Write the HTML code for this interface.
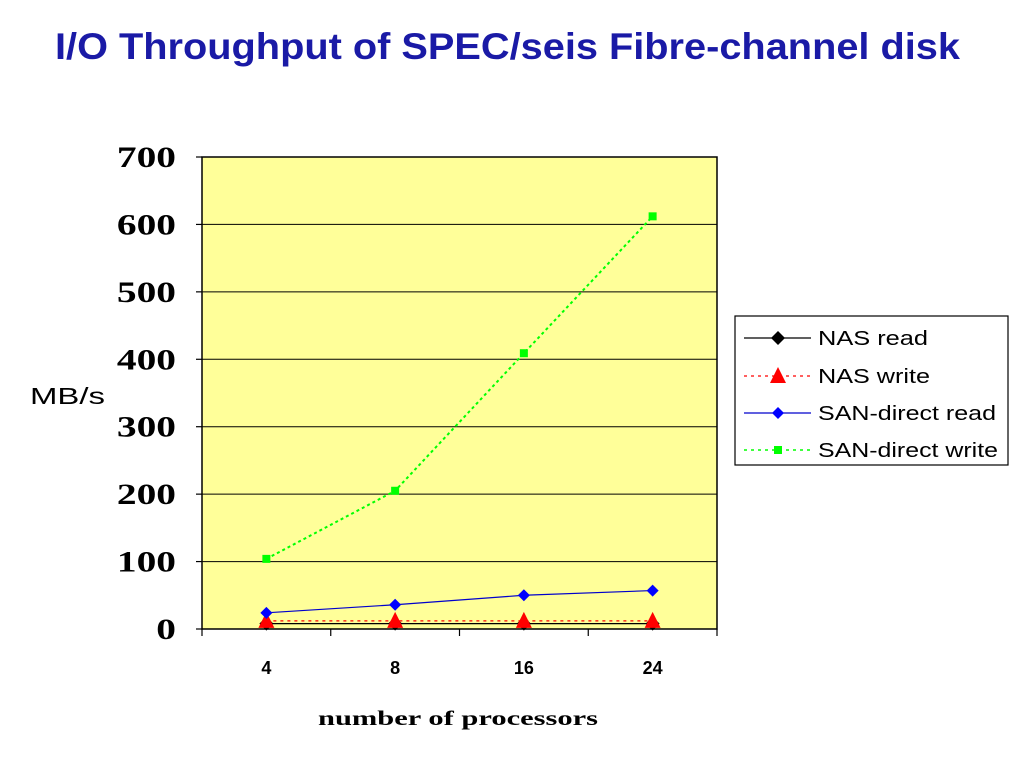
<!DOCTYPE html>
<html><head><meta charset="utf-8"><style>
body{margin:0;background:#fff;}
svg{display:block;}
</style></head><body>
<svg id="chart" width="1024" height="768" xmlns="http://www.w3.org/2000/svg">
<text x="55" y="59" textLength="905" lengthAdjust="spacingAndGlyphs" font-family="Liberation Sans, sans-serif" font-weight="bold" font-size="37" fill="#1a1aa6">I/O Throughput of SPEC/seis Fibre-channel disk</text>
<rect x="202" y="157" width="515" height="472" fill="#ffff99" stroke="#000" stroke-width="1.5"/>
<g id="grid"></g>
<g id="axes"></g>
<g id="series"></g>
<text x="30" y="404" textLength="75" lengthAdjust="spacingAndGlyphs" font-family="Liberation Sans, sans-serif" font-size="23" fill="#000">MB/s</text>
<text x="318" y="725" textLength="280" lengthAdjust="spacingAndGlyphs" font-family="Liberation Serif, serif" font-weight="bold" font-size="21" fill="#000">number of processors</text>
<g>
<rect x="735" y="316" width="273" height="149" fill="#fff" stroke="#000" stroke-width="1.2"/>
<line x1="744" y1="338" x2="811" y2="338" stroke="#000" stroke-width="1.2"/>
<path d="M778 331 L785 338 L778 345 L771 338Z" fill="#000"/>
<text x="818" y="345" textLength="110" lengthAdjust="spacingAndGlyphs" font-family="Liberation Sans, sans-serif" font-size="20">NAS read</text>
<line x1="744" y1="376" x2="811" y2="376" stroke="#f00" stroke-width="1.2" stroke-dasharray="3,4"/>
<path d="M778 367 L786 383 L770 383Z" fill="#f00"/>
<text x="818" y="383" textLength="112" lengthAdjust="spacingAndGlyphs" font-family="Liberation Sans, sans-serif" font-size="20">NAS write</text>
<line x1="744" y1="413" x2="811" y2="413" stroke="#00c" stroke-width="1.2"/>
<path d="M778 407 L784 413 L778 419 L772 413Z" fill="#00f"/>
<text x="818" y="420" textLength="178" lengthAdjust="spacingAndGlyphs" font-family="Liberation Sans, sans-serif" font-size="20">SAN-direct read</text>
<line x1="744" y1="450" x2="811" y2="450" stroke="#0f0" stroke-width="1.5" stroke-dasharray="3,4"/>
<rect x="774" y="446" width="8" height="8" fill="#0f0"/>
<text x="818" y="457" textLength="180" lengthAdjust="spacingAndGlyphs" font-family="Liberation Sans, sans-serif" font-size="20">SAN-direct write</text>
</g>
</svg>
<script>
const categories = ["4","8","16","24"];
const yTicks = [0,100,200,300,400,500,600,700];
const nasRead = [8,8,8,8];
const nasWrite = [12,12,12,12];
const sanRead = [24,36,50,57];
const sanWrite = [104,205,409,612];

const NS="http://www.w3.org/2000/svg";
const X0=202,X1=717,Y0=629,Y1=157,YMAX=700;
function xPos(i){return X0+(X1-X0)*(i+0.5)/categories.length;}
function yPos(v){return Y0-(Y0-Y1)*v/YMAX;}
function mk(tag,attrs,parent){const e=document.createElementNS(NS,tag);for(const k in attrs)e.setAttribute(k,attrs[k]);parent.appendChild(e);return e;}
const grid=document.getElementById('grid'),axes=document.getElementById('axes'),ser=document.getElementById('series');
yTicks.forEach(t=>{
  const y=yPos(t);
  if(t>0&&t<YMAX){const l=mk('line',{x1:X0,x2:X1,y1:y,y2:y,stroke:'#000','stroke-width':1},grid);
  
  }
  mk('line',{x1:X0-6,x2:X0,y1:y,y2:y,stroke:'#000','stroke-width':1.2},axes);
  const s=String(t);
  const tx=mk('text',{x:176,y:y+10,'text-anchor':'end','font-family':'Liberation Serif, serif','font-weight':'bold','font-size':30,textLength:s.length*19.7,lengthAdjust:'spacingAndGlyphs'},axes);
  tx.textContent=t;
  
  
});
for(let i=0;i<=categories.length;i++){const x=X0+(X1-X0)*i/categories.length;mk('line',{x1:x,x2:x,y1:Y0,y2:Y0+7,stroke:'#000','stroke-width':1.2},axes);}
categories.forEach((c,i)=>{
  const tx=mk('text',{x:xPos(i),y:674,'text-anchor':'middle','font-family':'Liberation Sans, sans-serif','font-weight':'bold','font-size':18},axes);
  tx.textContent=c;
  
  
});
function line(data,color,dash,w,name){
  const pts=data.map((v,i)=>xPos(i)+','+yPos(v)).join(' ');
  const p=mk('polyline',{points:pts,fill:'none',stroke:color,'stroke-width':w},ser);
  if(dash)p.setAttribute('stroke-dasharray',dash);
  
  
}
line(nasRead,'#000',null,1.2,'nas-read');
line(nasWrite,'#f00','3,4',1.2,'nas-write');
line(sanRead,'#00c',null,1.2,'san-read');
line(sanWrite,'#0f0','3,3',2,'san-write');
nasRead.forEach((v,i)=>{const x=xPos(i),y=yPos(v);const m=mk('path',{d:`M${x} ${y-7}L${x+7} ${y}L${x} ${y+7}L${x-7} ${y}Z`,fill:'#000'},ser);
  
  });
nasWrite.forEach((v,i)=>{const x=xPos(i),y=yPos(v);const m=mk('path',{d:`M${x} ${y-9}L${x+8} ${y+7}L${x-8} ${y+7}Z`,fill:'#f00'},ser);
  
  });
sanRead.forEach((v,i)=>{const x=xPos(i),y=yPos(v);const m=mk('path',{d:`M${x} ${y-6}L${x+6} ${y}L${x} ${y+6}L${x-6} ${y}Z`,fill:'#00f'},ser);
  
  });
sanWrite.forEach((v,i)=>{const x=xPos(i),y=yPos(v);const m=mk('rect',{x:x-4,y:y-4,width:8,height:8,fill:'#0f0'},ser);
  
  });
</script>
</body></html>
